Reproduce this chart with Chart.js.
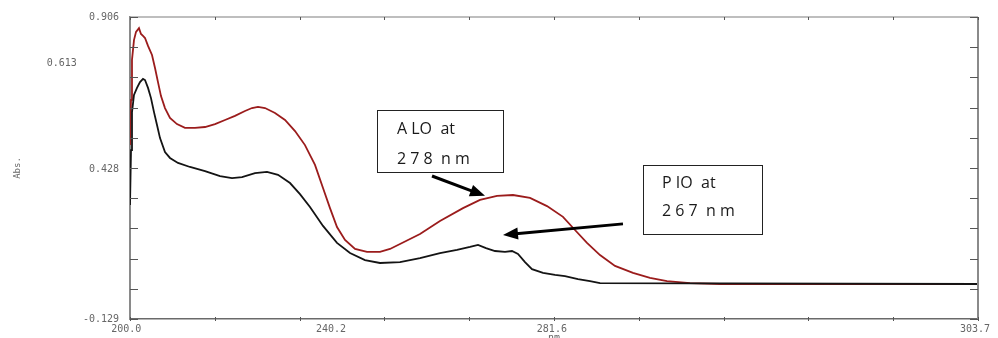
<!DOCTYPE html>
<html>
<head>
<meta charset="utf-8">
<script src="https://cdn.jsdelivr.net/npm/chart.js@4/dist/chart.umd.min.js"></script>
<style>
  html, body { margin: 0; padding: 0; background: #ffffff; }
  #wrap { width: 998px; height: 338px; }
</style>
</head>
<body>
<div id="wrap"><canvas id="c" width="998" height="338"></canvas></div>
<script>
// ---------------- data ----------------
// upper (dark red) spectrum
const redWavelength = [200.0, 200.24, 200.47, 200.94, 201.42, 202.12, 202.59, 203.07, 203.54, 204.25, 205.19, 205.90, 206.60, 207.31, 208.25, 209.43, 211.08, 212.97, 215.33, 217.69, 220.05, 222.41, 224.76, 227.12, 228.77, 230.19, 231.84, 234.20, 236.56, 238.92, 241.27, 243.63, 245.52, 247.17, 248.82, 250.71, 253.07, 255.90, 258.96, 261.32, 263.68, 268.40, 273.11, 278.54, 282.55, 286.56, 290.33, 294.34, 298.35, 302.12, 304.95, 307.78, 310.85, 314.39, 318.63, 322.64, 326.65, 332.08, 339.15, 400.0];
const redAbs = [0.467, 0.622, 0.759, 0.827, 0.855, 0.868, 0.848, 0.841, 0.834, 0.807, 0.776, 0.731, 0.683, 0.635, 0.594, 0.560, 0.539, 0.526, 0.526, 0.529, 0.539, 0.553, 0.567, 0.584, 0.594, 0.598, 0.594, 0.577, 0.553, 0.515, 0.467, 0.399, 0.320, 0.251, 0.186, 0.142, 0.111, 0.101, 0.101, 0.111, 0.128, 0.162, 0.207, 0.251, 0.279, 0.293, 0.296, 0.286, 0.258, 0.221, 0.176, 0.132, 0.090, 0.053, 0.029, 0.012, 0.001, -0.006, -0.009, -0.009];

// lower (black) spectrum
const blackWavelength = [200.0, 200.24, 200.47, 200.94, 201.65, 202.36, 203.07, 203.54, 204.25, 204.95, 205.66, 206.37, 207.08, 208.25, 209.43, 211.32, 214.15, 217.69, 221.23, 224.06, 226.42, 229.48, 232.31, 234.91, 237.74, 240.09, 242.45, 245.52, 248.82, 251.89, 255.42, 258.96, 263.68, 268.40, 273.11, 277.12, 280.19, 282.08, 283.96, 286.08, 288.44, 290.09, 291.51, 293.16, 294.81, 297.41, 300.24, 302.59, 305.66, 308.49, 310.85, 400.0];
const blackAbs = [0.262, 0.450, 0.580, 0.639, 0.663, 0.683, 0.694, 0.690, 0.663, 0.628, 0.580, 0.536, 0.491, 0.443, 0.423, 0.406, 0.392, 0.378, 0.361, 0.354, 0.357, 0.371, 0.375, 0.365, 0.337, 0.299, 0.255, 0.190, 0.132, 0.097, 0.073, 0.063, 0.066, 0.080, 0.097, 0.108, 0.118, 0.125, 0.114, 0.104, 0.101, 0.104, 0.094, 0.066, 0.042, 0.029, 0.022, 0.018, 0.008, 0.001, -0.006, -0.009];

// axis ranges, tick marks and tick labels (as printed on the picture)
const xMin = 200, xMax = 400;
const xTickMarks = [200, 220, 240, 260, 280, 300, 320, 340, 360, 380, 400];
const xLabelValues = [199.1, 247.4, 299.5, 399.3];
const xLabelText = ['200.0', '240.2', '281.6', '303.7'];
const yMin = -0.129, yMax = 0.906;
const yTickMarks = [-0.129, -0.0255, 0.078, 0.1815, 0.285, 0.3885, 0.492, 0.5955, 0.699, 0.8025, 0.906];
const yLabelValues = [0.906, 0.748, 0.382, -0.131];
const yLabelText = ['0.906', '0.613', '0.428', '-0.129'];
const yLabelIndent = [0, 7, 0, 0];

// annotations (in data units)
const notes = [
  { box: [258.25, 0.587, 287.97, 0.375], text: ['A LO  at', '2 7 8  n m'], tx: 262.97, ty: [0.519, 0.419],
    arrow: [271.23, 0.361, 283.73, 0.293] },
  { box: [320.99, 0.399, 349.06, 0.162], text: ['P IO  at', '2 6 7  n m'], tx: 325.47, ty: [0.337, 0.238],
    arrow: [316.27, 0.197, 287.97, 0.159] }
];

// ---------------- build ----------------
const toPts = (xs, ys) => xs.map((v, i) => ({ x: v, y: ys[i] }));

const framePlugin = {
  id: 'frame',
  afterDatasetsDraw(chart) {
    const { ctx, chartArea: a, scales: { x, y } } = chart;
    ctx.save();
    ctx.strokeStyle = '#a8a8a8'; ctx.lineWidth = 1.5;
    ctx.beginPath(); ctx.moveTo(a.left, a.top); ctx.lineTo(a.right, a.top); ctx.stroke();
    ctx.strokeStyle = '#8a8a8a'; ctx.lineWidth = 2;
    ctx.beginPath(); ctx.moveTo(a.right, a.top); ctx.lineTo(a.right, a.bottom); ctx.stroke();
    ctx.strokeStyle = '#555'; ctx.lineWidth = 1;
    xTickMarks.forEach(v => {
      const px = Math.round(x.getPixelForValue(v)) + 0.5;
      ctx.beginPath(); ctx.moveTo(px, a.bottom - 2); ctx.lineTo(px, a.bottom + 2); ctx.stroke();
      ctx.beginPath(); ctx.moveTo(px, a.top); ctx.lineTo(px, a.top + 3); ctx.stroke();
    });
    yTickMarks.forEach(v => {
      const py = Math.round(y.getPixelForValue(v)) + 0.5;
      ctx.beginPath(); ctx.moveTo(a.left, py); ctx.lineTo(a.left + 8, py); ctx.stroke();
      ctx.beginPath(); ctx.moveTo(a.right, py); ctx.lineTo(a.right - 8, py); ctx.stroke();
    });
    ctx.restore();
  }
};

const notePlugin = {
  id: 'notes',
  afterDraw(chart) {
    const { ctx, scales: { x, y } } = chart;
    ctx.save();
    notes.forEach(n => {
      const x1 = Math.round(x.getPixelForValue(n.box[0])) + 0.5, y1 = Math.round(y.getPixelForValue(n.box[1])) + 0.5;
      const x2 = Math.round(x.getPixelForValue(n.box[2])) + 0.5, y2 = Math.round(y.getPixelForValue(n.box[3])) + 0.5;
      ctx.fillStyle = '#ffffff';
      ctx.fillRect(x1, y1, x2 - x1, y2 - y1);
      ctx.strokeStyle = '#222'; ctx.lineWidth = 1;
      ctx.strokeRect(x1, y1, x2 - x1, y2 - y1);
      ctx.fillStyle = '#1a1a1a';
      ctx.font = '16px "Open Sans", "Liberation Sans", sans-serif';
      ctx.textAlign = 'left'; ctx.textBaseline = 'middle';
      n.text.forEach((t, i) => ctx.fillText(t, x.getPixelForValue(n.tx), y.getPixelForValue(n.ty[i])));
      const ax1 = x.getPixelForValue(n.arrow[0]), ay1 = y.getPixelForValue(n.arrow[1]);
      const ax2 = x.getPixelForValue(n.arrow[2]), ay2 = y.getPixelForValue(n.arrow[3]);
      const ang = Math.atan2(ay2 - ay1, ax2 - ax1);
      const hl = 15, hw = 6;
      const bx = ax2 - hl * Math.cos(ang), by = ay2 - hl * Math.sin(ang);
      ctx.strokeStyle = '#000'; ctx.lineWidth = 3; ctx.lineCap = 'butt';
      ctx.beginPath(); ctx.moveTo(ax1, ay1); ctx.lineTo(bx + 2 * Math.cos(ang), by + 2 * Math.sin(ang)); ctx.stroke();
      ctx.fillStyle = '#000';
      ctx.beginPath();
      ctx.moveTo(ax2, ay2);
      ctx.lineTo(bx - hw * Math.sin(ang), by + hw * Math.cos(ang));
      ctx.lineTo(bx + hw * Math.sin(ang), by - hw * Math.cos(ang));
      ctx.closePath(); ctx.fill();
    });
    ctx.restore();
  }
};

new Chart(document.getElementById('c'), {
  type: 'line',
  data: {
    datasets: [
      { label: 'PIO', data: toPts(blackWavelength, blackAbs), borderColor: '#141414', borderWidth: 1.8, pointRadius: 0, tension: 0 },
      { label: 'ALO', data: toPts(redWavelength, redAbs), borderColor: '#9b1c1c', borderWidth: 1.8, pointRadius: 0, tension: 0 }
    ]
  },
  options: {
    responsive: false,
    animation: false,
    devicePixelRatio: 1,
    layout: { padding: { left: 0, top: 17, right: 20, bottom: 0 } },
    plugins: { legend: { display: false }, tooltip: { enabled: false } },
    scales: {
      x: {
        type: 'linear', min: xMin, max: xMax,
        afterBuildTicks: s => { s.ticks = xLabelValues.map(v => ({ value: v })); },
        afterFit: s => { s.height = 19; },
        grid: { display: false, drawTicks: false },
        border: { display: true, color: '#6a6a6a', width: 1.5 },
        ticks: {
          autoSkip: false, maxRotation: 0, padding: 4,
          color: '#666', font: { family: '"DejaVu Sans Mono", monospace', size: 10 },
          callback: (v, i) => xLabelText[i]
        },
        title: { display: true, text: 'nm', color: '#666', padding: { top: 0, bottom: -6 },
                 font: { family: '"DejaVu Sans Mono", monospace', size: 10 } }
      },
      y: {
        type: 'linear', min: yMin, max: yMax,
        afterBuildTicks: s => { s.ticks = yLabelValues.map(v => ({ value: v })); },
        afterFit: s => { s.width = 130; },
        grid: { display: false, drawTicks: false },
        border: { display: true, color: '#8a8a8a', width: 2 },
        ticks: {
          autoSkip: false, padding: 11,
          color: '#666', font: { family: '"DejaVu Sans Mono", monospace', size: 10 },
          callback: (v, i) => yLabelText[i] + ' '.repeat(yLabelIndent[i])
        },
        title: { display: true, text: 'Abs.', color: '#666', padding: { top: 12, bottom: 0 },
                 font: { family: '"DejaVu Sans Mono", monospace', size: 9 } }
      }
    }
  },
  plugins: [framePlugin, notePlugin]
});
</script>
</body>
</html>
